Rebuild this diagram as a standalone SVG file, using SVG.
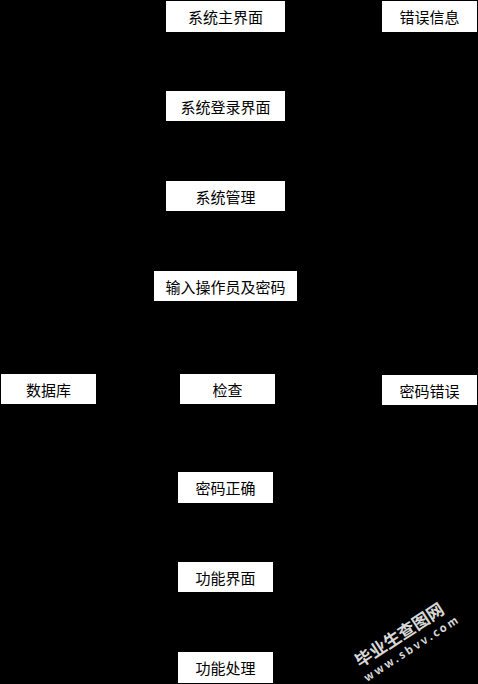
<svg xmlns="http://www.w3.org/2000/svg" width="478" height="684" viewBox="0 0 478 684">
<style>
.box{fill:#ffffff;stroke:none}
.lbl{font-family:"Noto Sans CJK SC","Noto Sans",sans-serif;font-size:15px;fill:#000000;text-anchor:middle;dominant-baseline:central}
.conn{stroke:#000000;stroke-width:1;fill:none}
.wm{font-family:"Noto Sans CJK SC","DejaVu Sans",sans-serif;fill:#d8d8d8;font-weight:bold}
</style>
<defs>
<marker id="arr" markerWidth="8" markerHeight="8" refX="7" refY="4" orient="auto">
<path d="M0,0 L8,4 L0,8 z" fill="#000000"/>
</marker>
</defs>
<rect x="0" y="0" width="478" height="684" fill="#000000"/>
<g id="connectors">
<line class="conn" x1="225.5" y1="32" x2="225.5" y2="91" marker-end="url(#arr)"/>
<line class="conn" x1="225.5" y1="121" x2="225.5" y2="181" marker-end="url(#arr)"/>
<line class="conn" x1="225.5" y1="211" x2="225.5" y2="271" marker-end="url(#arr)"/>
<line class="conn" x1="225.5" y1="301" x2="225.5" y2="374" marker-end="url(#arr)"/>
<line class="conn" x1="180" y1="389" x2="96" y2="389" marker-end="url(#arr)"/>
<line class="conn" x1="275" y1="389" x2="382" y2="389" marker-end="url(#arr)"/>
<line class="conn" x1="429.5" y1="375" x2="429.5" y2="32" marker-end="url(#arr)"/>
<line class="conn" x1="225.5" y1="404" x2="225.5" y2="472" marker-end="url(#arr)"/>
<line class="conn" x1="225.5" y1="503" x2="225.5" y2="562" marker-end="url(#arr)"/>
<line class="conn" x1="225.5" y1="592" x2="225.5" y2="652" marker-end="url(#arr)"/>
</g>
<g id="n1"><rect class="box" x="166" y="1" width="119" height="31"/><text class="lbl" x="225.5" y="16.5">系统主界面</text></g>
<g id="n2"><rect class="box" x="382" y="1" width="95" height="31"/><text class="lbl" x="429.5" y="16.5">错误信息</text></g>
<g id="n3"><rect class="box" x="166" y="91" width="119" height="30"/><text class="lbl" x="225.5" y="106">系统登录界面</text></g>
<g id="n4"><rect class="box" x="166" y="181" width="119" height="30"/><text class="lbl" x="225.5" y="196">系统管理</text></g>
<g id="n5"><rect class="box" x="154" y="271" width="143" height="30"/><text class="lbl" x="225.5" y="286">输入操作员及密码</text></g>
<g id="n6"><rect class="box" x="1" y="374" width="95" height="30"/><text class="lbl" x="48.5" y="389">数据库</text></g>
<g id="n7"><rect class="box" x="180" y="374" width="95" height="30"/><text class="lbl" x="227.5" y="389">检查</text></g>
<g id="n8"><rect class="box" x="382" y="375" width="95" height="30"/><text class="lbl" x="429.5" y="390">密码错误</text></g>
<g id="n9"><rect class="box" x="178" y="472" width="95" height="31"/><text class="lbl" x="225.5" y="487.5">密码正确</text></g>
<g id="n10"><rect class="box" x="178" y="562" width="95" height="30"/><text class="lbl" x="225.5" y="577">功能界面</text></g>
<g id="n11"><rect class="box" x="178" y="652" width="95" height="31"/><text class="lbl" x="225.5" y="667.5">功能处理</text></g>
<g id="watermark">
<text class="wm" font-size="17" transform="translate(360,668) rotate(-33)">毕业生查图网</text>
<text class="wm" font-size="11" letter-spacing="2.5" transform="translate(367,682) rotate(-33)">www.sbvv.com</text>
</g>
</svg>
